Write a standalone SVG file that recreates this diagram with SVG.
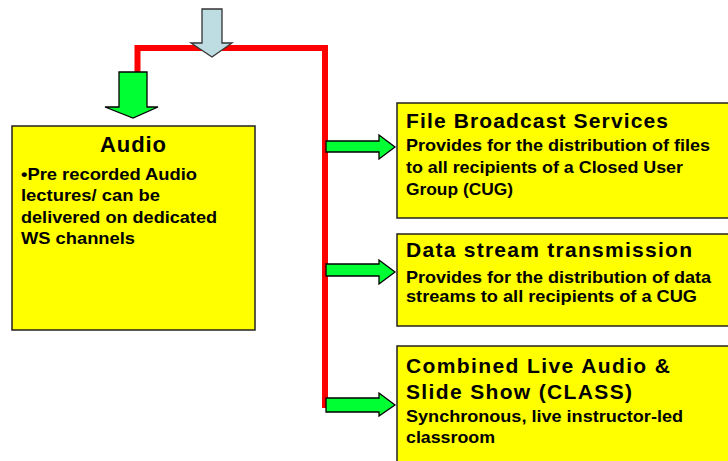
<svg xmlns="http://www.w3.org/2000/svg" width="728" height="461" viewBox="0 0 728 461">
<style>
.box{fill:#FFFF00;stroke:#222;stroke-width:1.5}
.t{font-family:"Liberation Sans",Arial,sans-serif;font-weight:bold;fill:#000}
.h{font-size:21px}
.b{font-size:16.5px}
.ga{fill:#00FF33;stroke:#000;stroke-width:1.3;stroke-linejoin:miter}
.red{fill:none;stroke:#FF0000;stroke-width:6;stroke-linejoin:miter}
</style>
<rect width="728" height="461" fill="#fff"/>
<g id="connectors">
<path class="red" d="M137.5,72 V48 H325 V408"/>
<path id="arrow-in" d="M202,9 H222 V43 H232 L212,57 L191,43 H202 Z" fill="#BEDDE2" stroke="#333" stroke-width="1.3"/>
<path id="arrow-audio" class="ga" d="M119,72 H147 V107 H158 L133,118 L105,107 H119 Z"/>
<path id="arrow-fbs" class="ga" d="M326,141 H379 V135 L395,147 L379,159 V152 H326 Z"/>
<path id="arrow-ds" class="ga" d="M326,264 H379 V260 L395,272 L379,284 V276 H326 Z"/>
<path id="arrow-class" class="ga" d="M326,398 H379 V393 L395,405 L379,416 V412 H326 Z"/>
</g>
<g id="audio">
<rect class="box" x="12" y="126" width="243" height="204"/>
<text class="t" x="133" y="152" font-size="22" text-anchor="middle" textLength="66" lengthAdjust="spacing">Audio</text>
<text class="t b" x="21" y="180" textLength="176" lengthAdjust="spacingAndGlyphs">•Pre recorded Audio</text>
<text class="t b" x="21" y="201" textLength="139" lengthAdjust="spacingAndGlyphs">lectures/ can be</text>
<text class="t b" x="21" y="223" textLength="196" lengthAdjust="spacingAndGlyphs">delivered on dedicated</text>
<text class="t b" x="21" y="244" textLength="114" lengthAdjust="spacingAndGlyphs">WS channels</text>
</g>
<g id="file-broadcast">
<rect class="box" x="397" y="103" width="340" height="115"/>
<text class="t h" x="406" y="128" textLength="262" lengthAdjust="spacing">File Broadcast Services</text>
<text class="t b" x="406" y="151" textLength="304" lengthAdjust="spacingAndGlyphs">Provides for the distribution of files</text>
<text class="t b" x="406" y="173" textLength="277" lengthAdjust="spacingAndGlyphs">to all recipients of a Closed User</text>
<text class="t b" x="406" y="195" textLength="107" lengthAdjust="spacingAndGlyphs">Group (CUG)</text>
</g>
<g id="data-stream">
<rect class="box" x="397" y="234" width="340" height="92"/>
<text class="t h" x="406" y="257" textLength="286" lengthAdjust="spacing">Data stream transmission</text>
<text class="t b" x="406" y="283" textLength="305" lengthAdjust="spacingAndGlyphs">Provides for the distribution of data</text>
<text class="t b" x="406" y="302" textLength="291" lengthAdjust="spacingAndGlyphs">streams to all recipients of a CUG</text>
</g>
<g id="class">
<rect class="box" x="397" y="346" width="340" height="130"/>
<text class="t h" x="406" y="373" textLength="264" lengthAdjust="spacing">Combined Live Audio &amp;</text>
<text class="t h" x="406" y="399" textLength="226" lengthAdjust="spacing">Slide Show (CLASS)</text>
<text class="t b" x="406" y="422" textLength="277" lengthAdjust="spacingAndGlyphs">Synchronous, live instructor-led</text>
<text class="t b" x="406" y="443" textLength="89" lengthAdjust="spacingAndGlyphs">classroom</text>
</g>
</svg>
